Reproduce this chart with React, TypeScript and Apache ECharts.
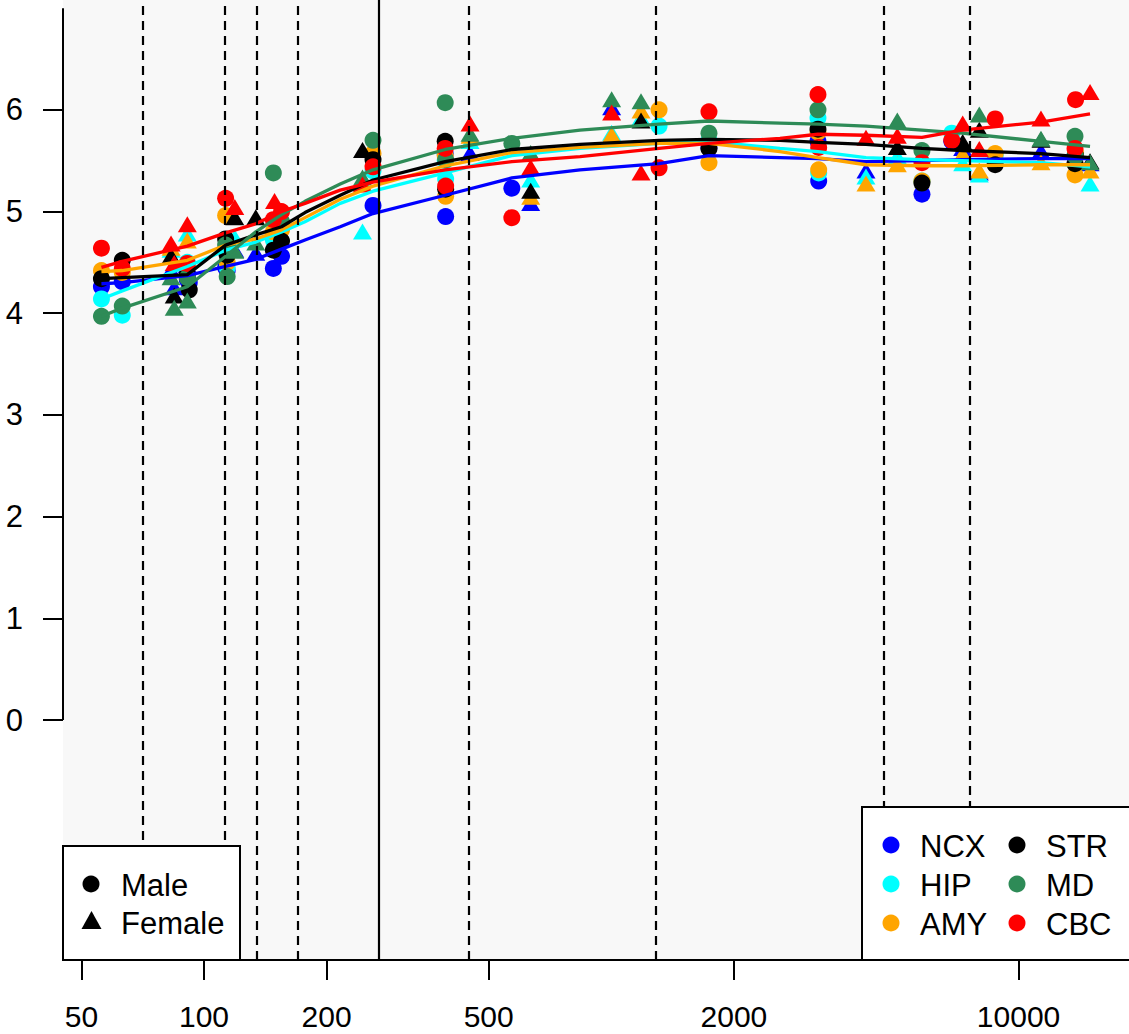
import React, { useEffect, useRef } from "react";
import * as echarts from "echarts";

// ---------- data ----------
const regions = ["NCX", "HIP", "AMY", "STR", "MD", "CBC"];

// ages (days) of male samples (circles)
const maleAges = [56, 63, 91, 92, 113, 114, 148, 155, 260, 391, 392, 570, 1310, 1737, 3217, 3230, 5791, 6854, 8761, 13757, 13800];
const ncxMale = [4.26, 4.31, 4.33, 4.30, 4.45, 4.42, 4.44, 4.56, 5.06, 5.57, 4.95, 5.23, null, 5.63, 5.69, 5.30, 5.17, 5.69, 5.50, 5.55, null];
const hipMale = [4.14, 3.98, 4.50, null, 4.62, 4.45, 4.72, 4.85, 5.40, 5.50, 5.32, null, 5.84, 5.70, 5.92, 5.38, 5.30, 5.77, 5.55, 5.55, null];
const amyMale = [4.42, 4.40, 4.45, null, 4.96, 4.50, 4.80, 4.82, 5.57, 5.55, 5.15, null, 6.00, 5.48, 5.78, 5.41, 5.30, null, 5.57, 5.36, 5.58];
const strMale = [4.34, 4.52, 4.38, 4.23, 4.73, 4.57, 4.62, 4.71, 5.51, 5.69, 5.22, null, null, 5.62, 5.81, null, 5.28, null, 5.46, 5.47, 5.55];
const mdMale = [3.97, 4.07, 4.35, null, 4.67, 4.36, 5.38, 4.90, 5.70, 6.07, 5.51, 5.67, null, 5.77, 6.00, null, 5.60, null, null, 5.74, 5.54];
const cbcMale = [4.64, 4.44, 4.49, null, 5.13, null, 4.92, 5.00, 5.44, 5.62, 5.25, 4.94, 5.43, 5.98, 6.15, 5.63, 5.48, 5.70, 5.91, 5.62, 6.10];

// ages (days) of female samples (triangles)
const femaleAges = [83, 84.5, 91, 119, 134, 149, 245, 450, 634, 1002, 1183, 4220, 5038, 7290, 8008, 11350, 14977];
const ncxFemale = [4.40, 4.23, 4.45, 4.60, 4.57, null, 5.25, 5.55, 5.06, 6.00, null, 5.38, 5.50, 5.60, 5.36, 5.57, 5.45];
const hipFemale = [4.60, null, 4.76, 4.72, null, 4.80, 4.78, 5.67, 5.29, 5.75, 5.90, 5.32, 5.52, 5.45, 5.34, null, 5.25];
const amyFemale = [4.62, null, 4.69, null, null, 4.85, 5.25, 5.72, 5.12, 5.73, 5.97, 5.25, 5.44, 5.54, 5.38, 5.46, 5.38];
const strFemale = [4.54, 4.15, null, 4.92, 4.92, null, 5.58, null, 5.18, null, 5.87, null, 5.61, 5.66, 5.78, 5.68, 5.47];
const mdFemale = [4.33, 4.03, 4.10, 4.59, 4.67, null, 5.31, 5.74, 5.55, 6.08, 6.06, null, 5.87, null, 5.93, 5.69, 5.46];
const cbcFemale = [4.66, 4.47, 4.85, 5.02, null, 5.08, 5.24, 5.84, 5.41, 5.95, 5.36, 5.70, 5.72, 5.84, 5.59, 5.89, 6.15];

// fitted curves
const fitAges = [56, 63, 91, 113, 134, 155, 177, 216, 260, 391, 570, 838, 1310, 1737, 2595, 3217, 4220, 5791, 7261, 11350, 14977];
const ncxFit = [4.29, 4.30, 4.37, 4.46, 4.53, 4.63, 4.72, 4.85, 4.98, 5.16, 5.33, 5.41, 5.47, 5.55, 5.53, 5.52, 5.49, 5.50, 5.51, 5.52, 5.52];
const hipFit = [4.14, 4.22, 4.46, 4.62, 4.70, 4.80, 4.90, 5.08, 5.20, 5.38, 5.55, 5.62, 5.67, 5.69, 5.62, 5.59, 5.53, 5.51, 5.50, 5.48, 5.44];
const amyFit = [4.41, 4.42, 4.52, 4.67, 4.73, 4.82, 4.94, 5.12, 5.25, 5.45, 5.58, 5.63, 5.67, 5.67, 5.59, 5.53, 5.46, 5.45, 5.45, 5.46, 5.46];
const strFit = [4.34, 4.35, 4.38, 4.67, 4.77, 4.85, 4.99, 5.16, 5.31, 5.49, 5.61, 5.66, 5.70, 5.71, 5.70, 5.68, 5.66, 5.62, 5.60, 5.57, 5.53];
const mdFit = [3.97, 4.05, 4.26, 4.56, 4.80, 4.97, 5.10, 5.27, 5.41, 5.61, 5.72, 5.80, 5.86, 5.89, 5.87, 5.86, 5.84, 5.80, 5.77, 5.69, 5.64];
const cbcFit = [4.45, 4.51, 4.66, 4.79, 4.88, 5.00, 5.08, 5.21, 5.29, 5.41, 5.49, 5.54, 5.62, 5.67, 5.72, 5.76, 5.75, 5.73, 5.80, 5.88, 5.96];

// period boundaries
const dashedAges = [70.5, 111.3, 134.2, 168.2, 445.9, 1300, 4630, 7530];
const birthAge = [267.4];

// axis ticks
const xTickLabels = [50, 100, 200, 500, 2000, 10000];
const yTickLabels = [0, 1, 2, 3, 4, 5, 6];

// ---------- styles ----------
const regionColors = ["#0000FF", "#00FFFF", "#FFA500", "#000000", "#2E8B57", "#FF0000"];
const FONT = "Liberation Sans";

export default function App() {
  const ref = useRef<HTMLDivElement>(null);

  useEffect(() => {
    const chart = echarts.init(ref.current!, null, { renderer: "svg" });
    const lg = (a: number) => Math.log10(a);
    const xMin = 1.6538;
    const xMax = 4.2711;

    const maleVals = [ncxMale, hipMale, amyMale, strMale, mdMale, cbcMale];
    const femaleVals = [ncxFemale, hipFemale, amyFemale, strFemale, mdFemale, cbcFemale];
    const fits = [ncxFit, hipFit, amyFit, strFit, mdFit, cbcFit];

    const series: any[] = [];
    regions.forEach((name, r) => {
      const color = regionColors[r];
      series.push({
        type: "scatter",
        name: name + " male",
        silent: true,
        symbol: "circle",
        symbolSize: 17,
        itemStyle: { color, opacity: 1 },
        data: maleAges
          .map((a, i) => [lg(a), maleVals[r][i]])
          .filter((d) => d[1] !== null),
      });
      series.push({
        type: "scatter",
        name: name + " female",
        silent: true,
        symbol: "triangle",
        symbolSize: [19, 16],
        symbolOffset: [0, -2.5],
        itemStyle: { color, opacity: 1 },
        data: femaleAges
          .map((a, i) => [lg(a), femaleVals[r][i]])
          .filter((d) => d[1] !== null),
      });
      series.push({
        type: "line",
        name: name + " fit",
        silent: true,
        symbol: "none",
        showSymbol: false,
        lineStyle: { color, width: 3.3 },
        itemStyle: { color },
        data: fitAges.map((a, i) => [lg(a), fits[r][i]]),
      });
    });

    // y axis line from 0 to 7 plus the vertical period lines
    series.push({
      type: "line",
      name: "axis",
      silent: true,
      clip: false,
      symbol: "none",
      lineStyle: { color: "#000", width: 2 },
      data: [
        [xMin, 0],
        [xMin, 7],
      ],
      z: 5,
      markLine: {
        silent: true,
        symbol: ["none", "none"],
        label: { show: false },
        animation: false,
        data: [
          ...dashedAges.map((a) => ({
            xAxis: lg(a),
            lineStyle: { color: "#000", width: 2.2, type: [9, 6] },
          })),
          ...birthAge.map((a) => ({
            xAxis: lg(a),
            lineStyle: { color: "#000", width: 2.2, type: "solid" },
          })),
        ],
      },
    });

    const txt = (text: string, x: number, y: number) => ({
      type: "text",
      x,
      y,
      z: 101,
      style: {
        text,
        fill: "#000",
        fontSize: 31,
        fontFamily: FONT,
        verticalAlign: "middle",
        align: "left",
      },
    });

    const graphic: any[] = [
      {
        type: "rect",
        z: 100,
        shape: { x: 63, y: 846, width: 177, height: 114 },
        style: { fill: "#fff", stroke: "#000", lineWidth: 2 },
      },
      { type: "circle", z: 101, shape: { cx: 91, cy: 884, r: 8.5 }, style: { fill: "#000" } },
      {
        type: "polygon",
        z: 101,
        shape: { points: [[91.5, 911], [81.5, 929], [101.5, 929]] },
        style: { fill: "#000" },
      },
      txt("Male", 121, 885),
      txt("Female", 121, 923),
      {
        type: "rect",
        z: 100,
        shape: { x: 862, y: 807, width: 280, height: 153 },
        style: { fill: "#fff", stroke: "#000", lineWidth: 2 },
      },
    ];
    const legendCols = [891, 1017];
    const legendRows = [845, 884, 923];
    regions.forEach((name, i) => {
      const col = Math.floor(i / 3);
      const row = i % 3;
      graphic.push({
        type: "circle",
        z: 101,
        shape: { cx: legendCols[col], cy: legendRows[row], r: 8.5 },
        style: { fill: regionColors[i] },
      });
      graphic.push(txt(name, legendCols[col] + 29, legendRows[row] + 1));
    });

    chart.setOption({
      animation: false,
      backgroundColor: "#fff",
      textStyle: { fontFamily: FONT },
      grid: {
        left: 63,
        right: 0,
        top: 0,
        bottom: 74,
        show: true,
        backgroundColor: "#F8F8F8",
        borderWidth: 0,
        borderColor: "transparent",
      },
      xAxis: {
        type: "value",
        min: xMin,
        max: xMax,
        splitLine: { show: false },
        axisLine: { show: true, onZero: false, lineStyle: { color: "#000", width: 2 } },
        axisTick: {
          show: true,
          length: 20,
          customValues: xTickLabels.map(lg),
          lineStyle: { color: "#000", width: 2 },
        },
        axisLabel: {
          show: true,
          customValues: xTickLabels.map(lg),
          margin: 41,
          fontSize: 30,
          lineHeight: 30,
          fontFamily: FONT,
          color: "#000",
          formatter: (v: number) => String(Math.round(Math.pow(10, v))),
        },
      },
      yAxis: {
        type: "value",
        min: -2.36,
        max: 7.08,
        splitLine: { show: false },
        axisLine: { show: false },
        axisTick: {
          show: true,
          length: 20,
          customValues: yTickLabels,
          lineStyle: { color: "#000", width: 2 },
        },
        axisLabel: {
          show: true,
          customValues: yTickLabels,
          margin: 40,
          fontSize: 31,
          fontFamily: FONT,
          color: "#000",
        },
      },
      series,
      graphic,
    });

    return () => chart.dispose();
  }, []);

  return (
    <div
      ref={ref}
      style={{ position: "absolute", left: 0, top: 0, width: 1129, height: 1034 }}
    />
  );
}
